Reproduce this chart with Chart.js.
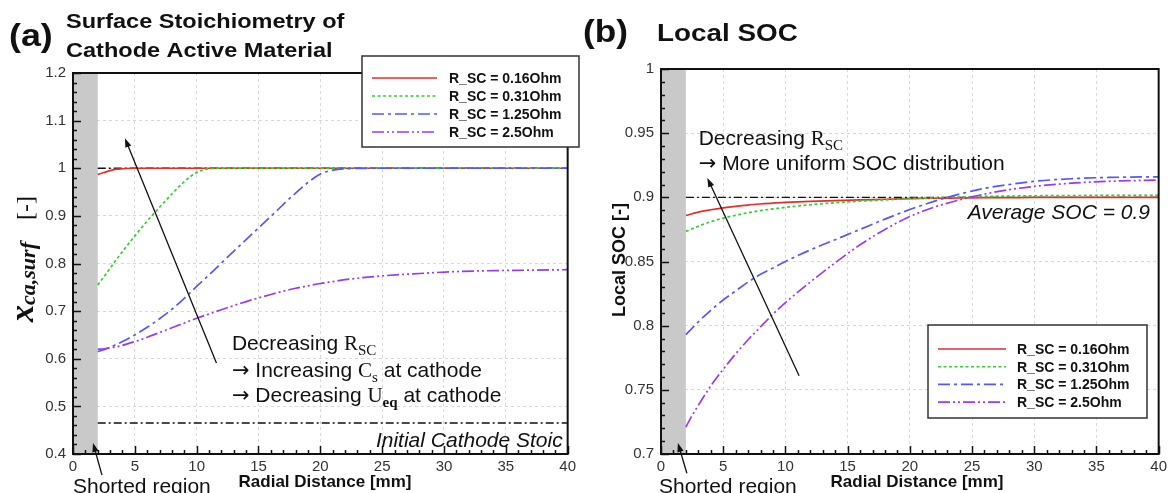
<!DOCTYPE html>
<html>
<head>
<meta charset="utf-8">
<script src="https://cdn.jsdelivr.net/npm/chart.js@4.4.1/dist/chart.umd.min.js"></script>
<style>
  body { margin: 0; background: #fff; width: 1171px; height: 493px; overflow: hidden; position: relative; }
  .panel { position: absolute; top: 0; height: 493px; }
  #panelA { left: 0; width: 580px; }
  #panelB { left: 580px; width: 591px; }
</style>
</head>
<body>
<div class="panel" id="panelA"><canvas id="chartA"></canvas></div>
<div class="panel" id="panelB"><canvas id="chartB"></canvas></div>
<script>
const SANS = '"Liberation Sans", Arial, sans-serif';
const SERIF = '"Liberation Serif", "Times New Roman", serif';
const ARROWFONT = '"DejaVu Sans", sans-serif';

// axes
const xTicks = [0, 5, 10, 15, 20, 25, 30, 35, 40];
const xTickLabels = ["0", "5", "10", "15", "20", "25", "30", "35", "40"];
const yTicksA = [0.4, 0.5, 0.6, 0.7, 0.8, 0.9, 1.0, 1.1, 1.2];
const yTickLabelsA = ["0.4", "0.5", "0.6", "0.7", "0.8", "0.9", "1", "1.1", "1.2"];
const yTicksB = [0.7, 0.75, 0.8, 0.85, 0.9, 0.95, 1.0];
const yTickLabelsB = ["0.7", "0.75", "0.8", "0.85", "0.9", "0.95", "1"];

const seriesLabels = ["R_SC = 0.16Ohm", "R_SC = 0.31Ohm", "R_SC = 1.25Ohm", "R_SC = 2.5Ohm"];
const seriesColors = ["#e0302c", "#38cc38", "#5858f4", "#9a3cec"];
const seriesDash = [[], [3, 2.5], [12, 4, 3, 4], [12, 3, 2, 3, 2, 3]];

// (a) surface stoichiometry of cathode active material
const radialA = [2, 2.5, 3, 3.5, 4, 5, 6, 7, 8, 9, 10, 11, 12, 14, 16, 18, 19, 20, 21, 22, 25, 28, 31, 34, 37, 40];
const stoic016 = [0.987, 0.991, 0.995, 0.998, 0.999, 1.0, 1.0, 1.0, 1.0, 1.0, 1.0, 1.0, 1.0, 1.0, 1.0, 1.0, 1.0, 1.0, 1.0, 1.0, 1.0, 1.0, 1.0, 1.0, 1.0, 1.0];
const stoic031 = [0.755, 0.772, 0.79, 0.808, 0.825, 0.858, 0.889, 0.918, 0.946, 0.972, 0.991, 0.999, 1.0, 1.0, 1.0, 1.0, 1.0, 1.0, 1.0, 1.0, 1.0, 1.0, 1.0, 1.0, 1.0, 1.0];
const stoic125 = [0.615, 0.619, 0.624, 0.63, 0.636, 0.65, 0.666, 0.684, 0.704, 0.727, 0.752, 0.776, 0.801, 0.85, 0.899, 0.948, 0.97, 0.988, 0.996, 0.999, 1.0, 1.0, 1.0, 1.0, 1.0, 1.0];
const stoic250 = [0.62, 0.621, 0.623, 0.625, 0.628, 0.636, 0.645, 0.655, 0.665, 0.675, 0.685, 0.694, 0.703, 0.72, 0.735, 0.748, 0.753, 0.758, 0.762, 0.766, 0.774, 0.779, 0.783, 0.785, 0.786, 0.787];

// (b) local SOC
const radialB = [2, 2.5, 3, 4, 5, 6, 7, 8, 9, 10, 12, 14, 16, 18, 20, 22, 24, 26, 28, 30, 33, 36, 40];
const soc016 = [0.8858, 0.8872, 0.8885, 0.8903, 0.8918, 0.893, 0.894, 0.8948, 0.8955, 0.896, 0.8968, 0.8975, 0.898, 0.8985, 0.899, 0.8993, 0.8995, 0.8997, 0.8998, 0.8999, 0.9, 0.9, 0.9];
const soc031 = [0.8735, 0.8755, 0.8775, 0.881, 0.8838, 0.886, 0.888, 0.8897, 0.891, 0.8922, 0.8942, 0.8958, 0.897, 0.898, 0.899, 0.8997, 0.9003, 0.9007, 0.901, 0.9012, 0.9014, 0.9015, 0.9016];
const soc125 = [0.793, 0.798, 0.803, 0.812, 0.82, 0.827, 0.834, 0.84, 0.845, 0.85, 0.859, 0.867, 0.875, 0.883, 0.8905, 0.897, 0.9025, 0.907, 0.91, 0.9125, 0.9145, 0.9155, 0.916];
const soc250 = [0.721, 0.73, 0.738, 0.753, 0.766, 0.778, 0.789, 0.799, 0.809, 0.818, 0.834, 0.849, 0.863, 0.875, 0.885, 0.8925, 0.898, 0.9025, 0.906, 0.9085, 0.911, 0.9125, 0.9135];

// reference lines and shorted region
const refX = [2, 40];
const fullStoic = [1.0, 1.0];
const initialStoic = [0.465, 0.465];
const averageSOC = [0.9, 0.9];
const shortedRegion = [0, 2];

// arrows [x1, y1, x2, y2] in data units, head at the second point
const arrowsA = [[11.6, 0.591, 4.2, 1.063], [2.34, 0.356, 1.62, 0.423]];
const arrowsB = [[11.1, 0.761, 3.73, 0.915], [2.08, 0.685, 1.36, 0.7086]];

function richText(ctx, x, y, parts, align) {
  let w = 0;
  parts.forEach(p => {
    ctx.font = p.font;
    p.w = ctx.measureText(p.t).width * (p.sx || 1) + (p.dx || 0);
    w += p.w;
  });
  let cx = align === "right" ? x - w : align === "center" ? x - w / 2 : x;
  ctx.textAlign = "left";
  ctx.textBaseline = "alphabetic";
  parts.forEach(p => {
    ctx.font = p.font;
    ctx.save();
    ctx.translate(cx + (p.dx || 0), y + (p.dy || 0));
    ctx.scale(p.sx || 1, 1);
    ctx.fillText(p.t, 0, 0);
    ctx.restore();
    cx += p.w;
  });
}

function drawArrow(ctx, x1, y1, x2, y2) {
  const ang = Math.atan2(y2 - y1, x2 - x1);
  ctx.strokeStyle = "#111";
  ctx.fillStyle = "#111";
  ctx.lineWidth = 1.3;
  ctx.setLineDash([]);
  ctx.beginPath();
  ctx.moveTo(x1, y1);
  ctx.lineTo(x2 - 6 * Math.cos(ang), y2 - 6 * Math.sin(ang));
  ctx.stroke();
  ctx.beginPath();
  ctx.moveTo(x2, y2);
  ctx.lineTo(x2 - 9 * Math.cos(ang) + 3.2 * Math.sin(ang), y2 - 9 * Math.sin(ang) - 3.2 * Math.cos(ang));
  ctx.lineTo(x2 - 9 * Math.cos(ang) - 3.2 * Math.sin(ang), y2 - 9 * Math.sin(ang) + 3.2 * Math.cos(ang));
  ctx.closePath();
  ctx.fill();
}

function decorPlugin(cfg) {
  return {
    id: "decor",
    beforeDatasetsDraw(chart) {
      const { ctx, chartArea: a, scales: { x } } = chart;
      ctx.save();
      ctx.fillStyle = "#c9c9c9";
      const x0 = x.getPixelForValue(shortedRegion[0]);
      const x1 = x.getPixelForValue(shortedRegion[1]);
      ctx.fillRect(x0, a.top, x1 - x0, a.bottom - a.top);
      ctx.restore();
    },
    afterDatasetsDraw(chart) {
      const { ctx, chartArea: a, scales: { x, y } } = chart;
      ctx.save();
      // frame
      ctx.strokeStyle = "#111";
      ctx.lineWidth = 2;
      ctx.setLineDash([]);
      ctx.strokeRect(a.left, a.top, a.right - a.left, a.bottom - a.top);
      // inward ticks
      ctx.lineWidth = 1.5;
      ctx.beginPath();
      for (let v = 0; v <= 40; v += 1) {
        const px = Math.round(x.getPixelForValue(v)) + 0.5;
        const len = v % 5 === 0 ? 8 : 4;
        ctx.moveTo(px, a.bottom);
        ctx.lineTo(px, a.bottom - len);
      }
      const n = Math.round((cfg.yMax - cfg.yMin) / cfg.yMinor);
      for (let i = 0; i <= n; i++) {
        const py = Math.round(y.getPixelForValue(cfg.yMin + i * cfg.yMinor)) + 0.5;
        const len = i % cfg.majorEvery === 0 ? 8 : 4;
        ctx.moveTo(a.left, py);
        ctx.lineTo(a.left + len, py);
      }
      ctx.stroke();
      // arrows
      cfg.arrows.forEach(r => drawArrow(ctx, x.getPixelForValue(r[0]), y.getPixelForValue(r[1]),
        x.getPixelForValue(r[2]), y.getPixelForValue(r[3])));
      // annotations
      ctx.fillStyle = "#111";
      cfg.notes.forEach(nt => richText(ctx, x.getPixelForValue(nt.x), y.getPixelForValue(nt.y), nt.parts, nt.align));
      // shorted region label
      richText(ctx, a.left + cfg.shortDx, chart.height, [{ t: "Shorted region", font: "21px " + SANS }], "left");
      // titles
      cfg.titles.forEach(tl => richText(ctx, tl.x, tl.y, tl.parts, "left"));
      // x axis title
      richText(ctx, cfg.xTitleX, 487, [{ t: "Radial Distance [mm]", font: "bold 17px " + SANS }], "center");
      // y axis title
      ctx.save();
      ctx.translate(cfg.yTitle.x, cfg.yTitle.y);
      ctx.rotate(-Math.PI / 2);
      richText(ctx, 0, 0, cfg.yTitle.parts, "center");
      ctx.restore();
      // legend
      const L = cfg.legend;
      ctx.fillStyle = "#fff";
      ctx.fillRect(L.x, L.y, L.w, L.h);
      ctx.strokeStyle = "#333";
      ctx.lineWidth = 1.5;
      ctx.strokeRect(L.x, L.y, L.w, L.h);
      chart.data.datasets.forEach((ds, i) => {
        if (ds.noLegend) return;
        const ly = L.y + L.row0 + i * L.rowH;
        ctx.strokeStyle = ds.borderColor;
        ctx.lineWidth = 1.6;
        ctx.setLineDash(ds.borderDash);
        ctx.beginPath();
        ctx.moveTo(L.x + L.sx, ly);
        ctx.lineTo(L.x + L.sx + L.sw, ly);
        ctx.stroke();
        ctx.setLineDash([]);
        ctx.fillStyle = "#111";
        richText(ctx, L.x + L.tx, ly + 5, [{ t: ds.label, font: "bold 14px " + SANS }], "left");
      });
      ctx.restore();
    }
  };
}

function buildChart(id, opt) {
  const ctx = document.getElementById(id).getContext("2d");
  const datasets = opt.series.map((ys, i) => ({
    label: seriesLabels[i],
    data: opt.xs.map((xv, j) => ({ x: xv, y: ys[j] })),
    borderColor: seriesColors[i],
    borderDash: seriesDash[i],
    borderWidth: 1.7,
    pointRadius: 0,
    cubicInterpolationMode: "monotone",
    order: 4 - i
  }));
  opt.refs.forEach(ys => datasets.push({
    label: "",
    noLegend: true,
    data: refX.map((xv, j) => ({ x: xv, y: ys[j] })),
    borderColor: "#111",
    borderDash: [8, 3, 2, 3],
    borderWidth: 1.4,
    pointRadius: 0,
    order: 10
  }));

  const tickFont = { family: SANS, size: 15 };
  new Chart(ctx, {
    type: "line",
    data: { datasets },
    options: {
      responsive: true,
      maintainAspectRatio: false,
      animation: false,
      layout: { padding: { left: 0, top: opt.top, right: opt.right, bottom: 0 } },
      plugins: { legend: { display: false }, tooltip: { enabled: false } },
      scales: {
        x: {
          type: "linear",
          min: 0,
          max: 40,
          afterBuildTicks: s => { s.ticks = xTicks.map(v => ({ value: v })); },
          afterFit: s => { s.height = 39; },
          ticks: { callback: (v, i) => xTickLabels[i], font: tickFont, color: "#333", padding: 4, maxRotation: 0, autoSkip: false },
          grid: { color: "#d9d9d9", lineWidth: 1, drawTicks: false },
          border: { display: false, dash: [3, 3] }
        },
        y: {
          type: "linear",
          min: opt.yMin,
          max: opt.yMax,
          afterBuildTicks: s => { s.ticks = opt.yTicks.map(v => ({ value: v })); },
          afterFit: s => { s.width = opt.left; },
          ticks: { callback: (v, i) => opt.yLabels[i], font: tickFont, color: "#333", padding: 7, autoSkip: false },
          grid: { color: "#d9d9d9", lineWidth: 1, drawTicks: false },
          border: { display: false, dash: [3, 3] }
        }
      }
    },
    plugins: [decorPlugin(opt.decor)]
  });
}

const sans21 = "21px " + SANS;
const ital21 = "italic 21px " + SANS;
const serif21 = "21px " + SERIF;
const sub15 = "15px " + SERIF;
const arrow21 = "21px " + ARROWFONT;

buildChart("chartA", {
  xs: radialA,
  series: [stoic016, stoic031, stoic125, stoic250],
  refs: [fullStoic, initialStoic],
  yMin: 0.4, yMax: 1.2, yTicks: yTicksA, yLabels: yTickLabelsA,
  top: 73, right: 12, left: 73,
  decor: {
    yMin: 0.4, yMax: 1.2, yMinor: 0.02, majorEvery: 5,
    arrows: arrowsA,
    notes: [
      { x: 12.85, y: 0.618, parts: [{ t: "Decreasing ", font: sans21 }, { t: "R", font: serif21 }, { t: "SC", font: sub15, dy: 5 }] },
      { x: 12.85, y: 0.562, parts: [{ t: "\u2192", font: arrow21 }, { t: " Increasing ", font: sans21 }, { t: "C", font: serif21 }, { t: "s", font: sub15, dy: 5 }, { t: " at cathode", font: sans21 }] },
      { x: 12.85, y: 0.509, parts: [{ t: "\u2192", font: arrow21 }, { t: " Decreasing ", font: sans21 }, { t: "U", font: serif21 }, { t: "eq", font: "bold " + sub15, dy: 5 }, { t: " at cathode", font: sans21 }] },
      { x: 39.6, y: 0.415, align: "right", parts: [{ t: "Initial Cathode Stoic", font: ital21 }] }
    ],
    shortDx: 0,
    titles: [
      { x: 9, y: 46, parts: [{ t: "(a)", font: "bold 32px " + SANS, sx: 1.12 }] },
      { x: 66, y: 28, parts: [{ t: "Surface Stoichiometry of", font: "bold 21px " + SANS, sx: 1.12 }] },
      { x: 66, y: 57, parts: [{ t: "Cathode Active Material", font: "bold 21px " + SANS, sx: 1.12 }] }
    ],
    xTitleX: 325,
    yTitle: { x: 33, y: 259, parts: [
      { t: "x", font: "bold italic 34px " + SERIF },
      { t: "ca,surf", font: "bold italic 22px " + SERIF, dy: 2 },
      { t: "[-]", font: "24px " + SERIF, dx: 22 }
    ] },
    legend: { x: 362, y: 56, w: 217, h: 91, row0: 22, rowH: 18, sx: 10, sw: 65, tx: 87 }
  }
});

buildChart("chartB", {
  xs: radialB,
  series: [soc016, soc031, soc125, soc250],
  refs: [averageSOC],
  yMin: 0.7, yMax: 1.0, yTicks: yTicksB, yLabels: yTickLabelsB,
  top: 69, right: 9, left: 81,
  decor: {
    yMin: 0.7, yMax: 1.0, yMinor: 0.01, majorEvery: 5,
    arrows: arrowsB,
    notes: [
      { x: 3.03, y: 0.9408, parts: [{ t: "Decreasing ", font: sans21 }, { t: "R", font: serif21 }, { t: "SC", font: sub15, dy: 5 }] },
      { x: 3.03, y: 0.9213, parts: [{ t: "\u2192", font: arrow21 }, { t: " More uniform SOC distribution", font: sans21 }] },
      { x: 39.3, y: 0.8829, align: "right", parts: [{ t: "Average SOC = 0.9", font: ital21 }] }
    ],
    shortDx: -2,
    titles: [
      { x: 3, y: 42, parts: [{ t: "(b)", font: "bold 32px " + SANS, sx: 1.1 }] },
      { x: 77, y: 41, parts: [{ t: "Local SOC", font: "bold 23px " + SANS, sx: 1.21 }] }
    ],
    xTitleX: 337,
    yTitle: { x: 45, y: 260, parts: [{ t: "Local SOC [-]", font: "bold 18px " + SANS }] },
    legend: { x: 348, y: 325, w: 219, h: 93, row0: 24, rowH: 17.7, sx: 10, sw: 68, tx: 89 }
  }
});
</script>
</body>
</html>
